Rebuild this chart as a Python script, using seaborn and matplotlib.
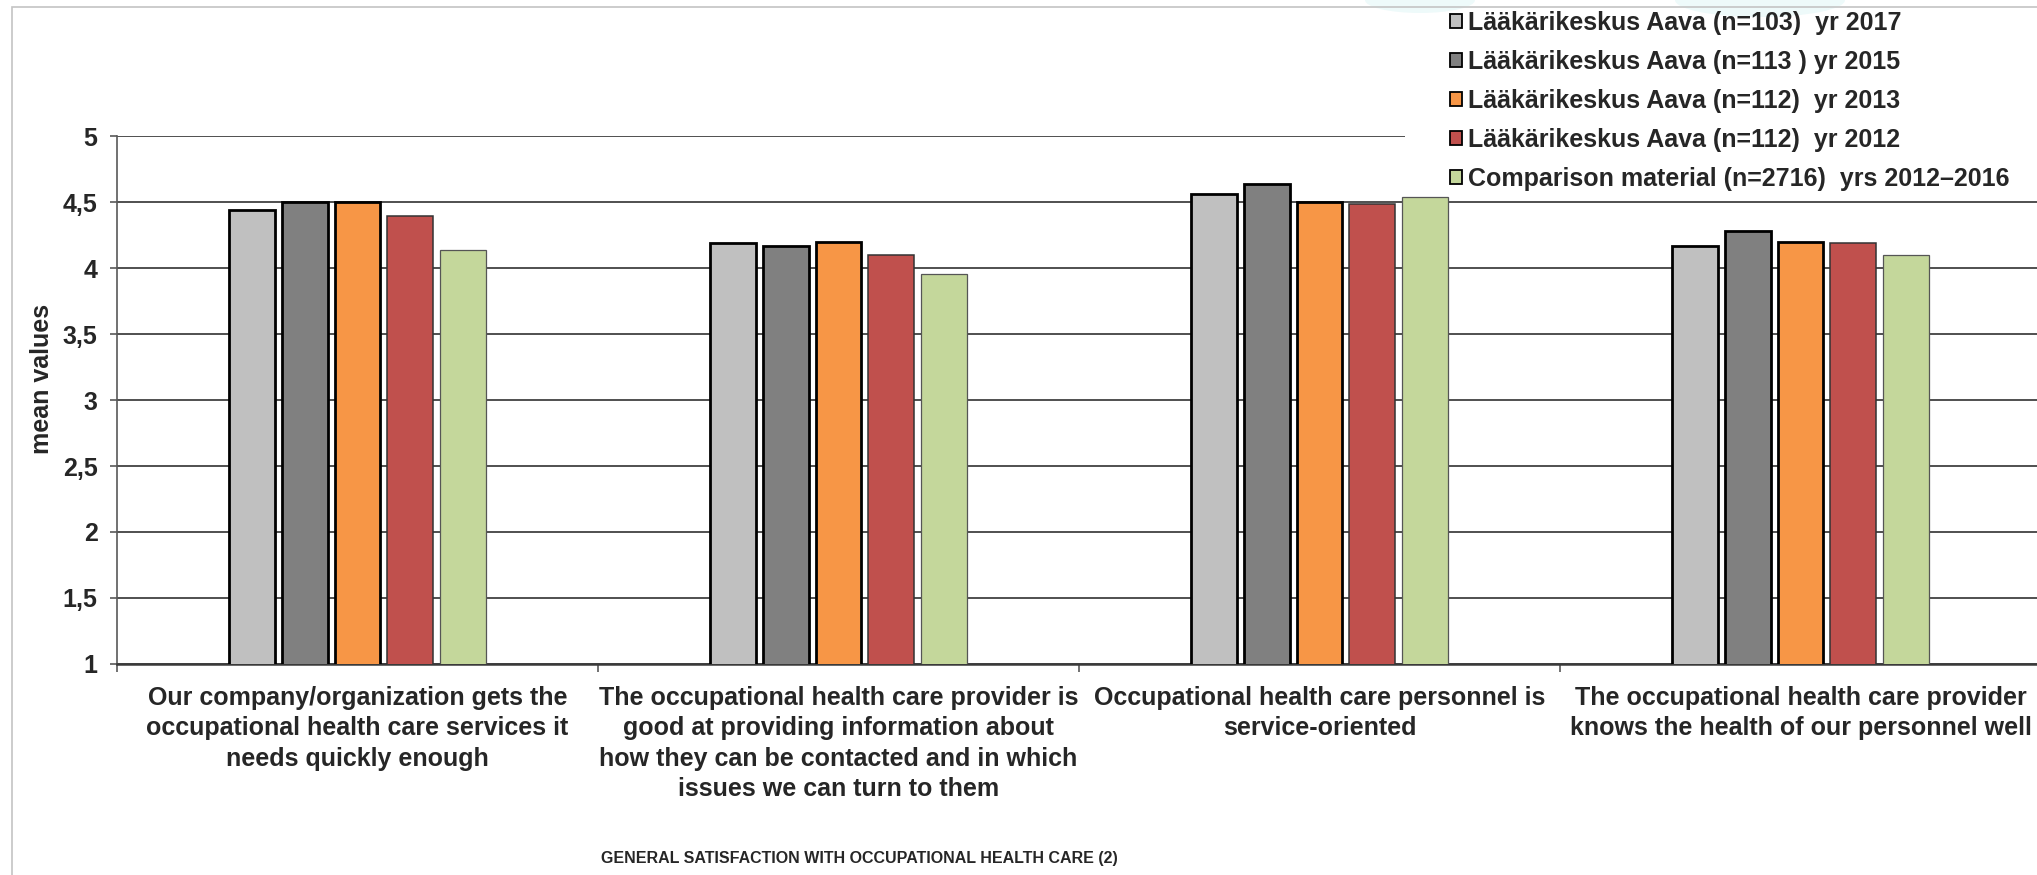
import matplotlib
matplotlib.use("Agg")
import matplotlib.pyplot as plt
import seaborn as sns
import pandas as pd
from matplotlib.patches import Patch, Rectangle, Ellipse
from matplotlib import font_manager

# ---------------- data ----------------
categories = [
    "Our company/organization gets the\noccupational health care services it\nneeds quickly enough",
    "The occupational health care provider is\ngood at providing information about\nhow they can be contacted and in which\nissues we can turn to them",
    "Occupational health care personnel is\nservice-oriented",
    "The occupational health care provider\nknows the health of our personnel well",
]
series = [
    "Lääkärikeskus Aava (n=103)  yr 2017",
    "Lääkärikeskus Aava (n=113 ) yr 2015",
    "Lääkärikeskus Aava (n=112)  yr 2013",
    "Lääkärikeskus Aava (n=112)  yr 2012",
    "Comparison material (n=2716)  yrs 2012–2016",
]
aava_2017 = [4.44, 4.19, 4.56, 4.17]
aava_2015 = [4.50, 4.17, 4.64, 4.28]
aava_2013 = [4.50, 4.20, 4.50, 4.20]
aava_2012 = [4.40, 4.10, 4.49, 4.19]
comparison = [4.14, 3.96, 4.54, 4.10]
y_ticks = [1, 1.5, 2, 2.5, 3, 3.5, 4, 4.5, 5]
y_tick_labels = ["1", "1,5", "2", "2,5", "3", "3,5", "4", "4,5", "5"]
y_label = "mean values"
x_title = "GENERAL SATISFACTION WITH OCCUPATIONAL HEALTH CARE (2)"
colors = ["#C0C0C0", "#808080", "#F79646", "#C0504D", "#C4D79B"]

all_values = [aava_2017, aava_2015, aava_2013, aava_2012, comparison]
rows = []
for s, vals in zip(series, all_values):
    for c, v in zip(categories, vals):
        rows.append({"category": c, "series": s, "value": v})
df = pd.DataFrame(rows)

# ---------------- style ----------------
sns.set_style("white")
plt.rcParams["font.family"] = ["Liberation Sans", "DejaVu Sans"]

try:
    font_manager.findfont(
        font_manager.FontProperties(family="Liberation Sans Narrow", weight="bold"),
        fallback_to_default=False,
    )
    title_family, title_size = ["Liberation Sans Narrow", "Liberation Sans"], 13.5
except Exception:
    title_family, title_size = ["Liberation Sans", "DejaVu Sans"], 11.5

W, H = 2037, 875
fig = plt.figure(figsize=(W / 100, H / 100), dpi=100)
ax_left, ax_right, ax_top, ax_bottom = 117, 2041, 136.4, 663.8
ax = fig.add_axes([ax_left / W, 1 - ax_bottom / H,
                   (ax_right - ax_left) / W, (ax_bottom - ax_top) / H])

sns.barplot(data=df, x="category", y="value", hue="series",
            order=categories, hue_order=series, palette=colors,
            width=0.548, gap=0.13, saturation=1, errorbar=None,
            edgecolor="black", linewidth=2, legend=False, ax=ax)

edge_cols = ["black", "black", "black", "#333333", "#555555"]
edge_lws = [2.0, 2.0, 2.0, 1.1, 0.9]
for cont, ec, lw in zip(ax.containers, edge_cols, edge_lws):
    for p in cont:
        p.set_edgecolor(ec)
        p.set_linewidth(lw)
        p.set_zorder(3)

ax.set_ylim(1, 5)
ax.set_xlim(-0.5, 3.5)
ax.set_yticks(y_ticks, y_tick_labels)
ax.set_axisbelow(True)
ax.yaxis.grid(True, color="#4f4f4f", linewidth=1.4)
ax.xaxis.grid(False)

for side in ["top", "right"]:
    ax.spines[side].set_visible(False)
ax.spines["left"].set_color("#595959")
ax.spines["left"].set_linewidth(1.2)
ax.spines["bottom"].set_color("#3a3a3a")
ax.spines["bottom"].set_linewidth(1.8)

ax.tick_params(axis="y", which="major", left=True, length=5, width=1.2,
               color="#595959", pad=9, labelsize=18)
for t in ax.get_yticklabels():
    t.set_fontweight("bold")

ax.set_xticks(range(len(categories)), categories)
ax.set_xticks([-0.5, 0.5, 1.5, 2.5, 3.5], minor=True)
ax.tick_params(axis="x", which="major", length=0, pad=16, labelsize=18)
ax.tick_params(axis="x", which="minor", bottom=True, length=6, width=1.2,
               color="#595959")
for t in ax.get_xticklabels():
    t.set_fontweight("bold")
    t.set_linespacing(1.34)

ax.set_ylabel(y_label, fontsize=18, fontweight="bold")
ax.yaxis.set_label_coords((42 - ax_left) / (ax_right - ax_left), 0.54)
ax.yaxis.label.set_verticalalignment("center")

ax.set_xlabel(x_title, fontsize=title_size, fontweight="bold", family=title_family)
ax.xaxis.set_label_coords((859 - ax_left) / (ax_right - ax_left),
                          (ax_bottom - 858) / (ax_bottom - ax_top))
ax.xaxis.label.set_verticalalignment("center")

# white area behind legend (hides gridline as in reference)
fig.add_artist(Rectangle((1405 / W, 1 - 195 / H), 0.4, 195 / H, transform=fig.transFigure,
                         facecolor="white", edgecolor="none", zorder=1))
# very faint decorative cyan shapes at the top edge
fig.add_artist(Ellipse((1420 / W, 1.0), 110 / W, 26 / H, transform=fig.transFigure,
                       facecolor="#EEFAFA", edgecolor="none", zorder=2))
fig.add_artist(Ellipse((1760 / W, 1.0), 170 / W, 34 / H, transform=fig.transFigure,
                       facecolor="#EEFAFA", edgecolor="none", zorder=2))

handles = [Patch(facecolor=c, edgecolor="black", linewidth=1.3) for c in colors]
leg = fig.legend(handles, series, loc="upper left",
                 bbox_to_anchor=(1450 / W, 1 - 11 / H), frameon=False,
                 prop={"size": 18, "weight": "bold"},
                 handlelength=0.46, handleheight=0.46,
                 handletextpad=0.25, labelspacing=0.6, borderpad=0, borderaxespad=0)

# light outer border
fig.add_artist(Rectangle((12 / W, -0.1), 1.2, 1.1 - 7 / H, transform=fig.transFigure,
                         fill=False, edgecolor="#C4C4C4", linewidth=1.2, zorder=6))

fig.savefig("out.png", dpi=100)
